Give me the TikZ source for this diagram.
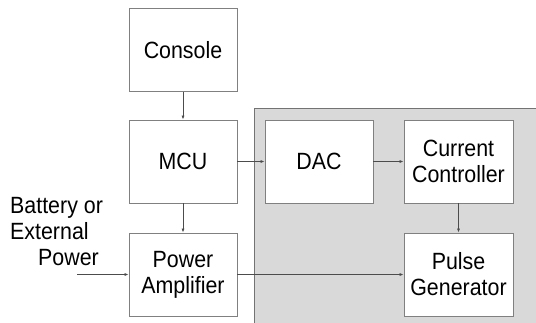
\documentclass[tikz,border=0pt]{standalone}
\usepackage{fontspec}
\setmainfont{Liberation Sans}[FakeStretch=0.91]
\usetikzlibrary{arrows.meta}
\begin{document}
\begin{tikzpicture}[x=1pt,y=-1pt,
  blk/.style={draw=black!50, line width=0.8pt, fill=white, minimum width=108pt, minimum height=83pt, align=center, inner sep=0pt, font=\fontsize{23.5}{26}\selectfont},
  conn/.style={draw=black!70, line width=0.7pt, -{Latex[length=4pt,width=3pt]}},
  lbl/.style={font=\fontsize{23.5}{26}\selectfont, inner sep=0pt, anchor=base west}]
\useasboundingbox (0,0) rectangle (536,322);
\fill[black!15, draw=black!55, line width=0.8pt] (254,108) rectangle (540,326);
\node[blk] (console) at (183,50) {Console};
\node[blk] (mcu) at (183,161.5) {MCU};
\node[blk] (pa) at (183,274.5) {Power\\Amplifier};
\node[blk] (dac) at (319,161.5) {DAC};
\node[blk, minimum width=109pt] (cc) at (458.5,161.5) {Current\\Controller};
\node[blk, minimum width=109pt] (pg) at (458.5,274.5) {Pulse\\Generator};
\node[lbl] (t1) at (10,213) {Battery or};
\node[lbl] (t2) at (10,239) {External};
\node[lbl] (t3) at (38,265) {Power};
\coordinate (src) at (77,274.5);
\draw[conn] (console) -- (mcu);
\draw[conn] (mcu) -- (pa);
\draw[conn] (mcu) -- (dac);
\draw[conn] (dac) -- (cc);
\draw[conn] (cc) -- (pg);
\draw[conn] (src) -- (pa);
\draw[conn] (pa) -- (pg);
\end{tikzpicture}
\end{document}
